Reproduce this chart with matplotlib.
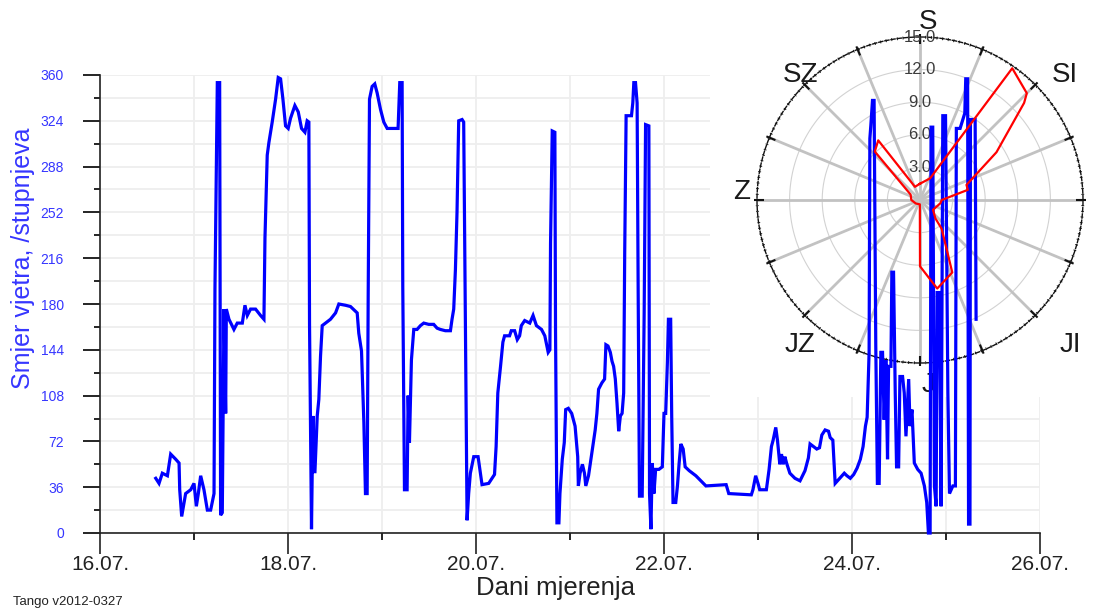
import numpy as np
import matplotlib
matplotlib.use("Agg")
import matplotlib.pyplot as plt
from matplotlib.patches import Rectangle

plt.rcParams['font.family'] = ['Liberation Sans', 'DejaVu Sans']

# vrijeme (dan u srpnju) i smjer vjetra u stupnjevima
days = [16.593, 16.628, 16.663, 16.717, 16.752, 16.805, 16.841, 16.848, 16.869, 16.894,
        16.911, 16.965, 17.0, 17.025, 17.046, 17.071, 17.106, 17.142, 17.177, 17.213,
        17.223, 17.248, 17.273, 17.283, 17.301, 17.319, 17.337, 17.344, 17.372, 17.425,
        17.46, 17.514, 17.542, 17.567, 17.602, 17.655, 17.708, 17.744, 17.755, 17.779,
        17.797, 17.815, 17.832, 17.868, 17.896, 17.921, 17.946, 17.974, 18.002, 18.027,
        18.073, 18.109, 18.144, 18.18, 18.204, 18.222, 18.229, 18.25, 18.265, 18.286,
        18.311, 18.328, 18.346, 18.364, 18.399, 18.452, 18.506, 18.541, 18.612, 18.665,
        18.736, 18.753, 18.782, 18.807, 18.824, 18.842, 18.853, 18.867, 18.895, 18.923,
        18.948, 18.984, 19.019, 19.055, 19.108, 19.171, 19.189, 19.214, 19.221, 19.239,
        19.267, 19.278, 19.292, 19.313, 19.338, 19.373, 19.409, 19.444, 19.497, 19.55,
        19.586, 19.621, 19.674, 19.728, 19.745, 19.763, 19.781, 19.798, 19.816, 19.852,
        19.869, 19.887, 19.905, 19.922, 19.94, 19.976, 20.022, 20.047, 20.064, 20.135,
        20.161, 20.197, 20.214, 20.232, 20.261, 20.286, 20.304, 20.357, 20.375, 20.411,
        20.439, 20.464, 20.482, 20.518, 20.572, 20.607, 20.643, 20.697, 20.732, 20.768,
        20.786, 20.793, 20.811, 20.839, 20.846, 20.861, 20.882, 20.893, 20.918, 20.939,
        20.954, 20.982, 21.018, 21.054, 21.082, 21.089, 21.107, 21.132, 21.154, 21.168,
        21.197, 21.232, 21.268, 21.286, 21.304, 21.339, 21.368, 21.382, 21.404, 21.429,
        21.447, 21.464, 21.482, 21.5, 21.518, 21.536, 21.554, 21.571, 21.582, 21.597,
        21.654, 21.668, 21.679, 21.697, 21.714, 21.725, 21.739, 21.768, 21.789, 21.804,
        21.839, 21.846, 21.861, 21.875, 21.893, 21.911, 21.946, 21.982, 22.0, 22.018,
        22.036, 22.047, 22.071, 22.082, 22.096, 22.125, 22.143, 22.161, 22.179, 22.204,
        22.225, 22.268, 22.339, 22.393, 22.446, 22.661, 22.689, 22.929, 22.946, 22.975,
        23.0, 23.018, 23.089, 23.118, 23.143, 23.161, 23.189, 23.207, 23.232, 23.25,
        23.268, 23.286, 23.304, 23.339, 23.393, 23.447, 23.5, 23.536, 23.554, 23.589,
        23.625, 23.654, 23.679, 23.714, 23.75, 23.768, 23.796, 23.821, 23.893, 23.918,
        23.946, 23.982, 24.018, 24.054, 24.089, 24.118, 24.143, 24.161, 24.182, 24.19,
        24.2, 24.218, 24.235, 24.253, 24.27, 24.289, 24.307, 24.325, 24.342, 24.36,
        24.378, 24.389, 24.414, 24.424, 24.442, 24.46, 24.474, 24.496, 24.51, 24.538,
        24.556, 24.574, 24.603, 24.617, 24.638, 24.663, 24.699, 24.735, 24.77, 24.795,
        24.813, 24.831, 24.841, 24.859, 24.877, 24.895, 24.906, 24.93, 24.948, 24.966,
        24.995, 25.02, 25.037, 25.073, 25.1, 25.11, 25.15, 25.2, 25.21, 25.23,
        25.24, 25.255, 25.26, 25.31, 25.32]
smjer = [43, 39, 47, 45, 62, 58, 55, 34, 13, 24,
         31, 34, 39, 21, 31, 45, 34, 18, 18, 31,
         192, 354, 354, 14, 16, 176, 94, 176, 168, 160,
         165, 165, 179, 171, 176, 176, 171, 168, 232, 297,
         307, 315, 323, 341, 358, 357, 341, 320, 318, 326,
         336, 331, 318, 315, 324, 323, 164, 3, 92, 47,
         92, 105, 139, 163, 165, 168, 173, 180, 179, 178,
         173, 157, 143, 87, 31, 31, 186, 341, 351, 353,
         346, 333, 323, 318, 318, 318, 354, 354, 194, 34,
         34, 108, 71, 136, 160, 160, 163, 165, 164, 164,
         161, 160, 159, 159, 168, 176, 207, 252, 324, 325,
         323, 165, 10, 31, 47, 60, 60, 47, 38, 39,
         42, 46, 68, 110, 131, 150, 155, 155, 159, 159,
         152, 155, 163, 167, 165, 171, 163, 160, 155, 142,
         144, 228, 316, 315, 160, 8, 8, 31, 58, 71,
         97, 98, 94, 84, 60, 37, 47, 54, 47, 37,
         45, 63, 81, 94, 113, 118, 121, 148, 147, 142,
         135, 131, 121, 102, 80, 92, 94, 110, 220, 328,
         328, 338, 354, 354, 338, 192, 29, 29, 173, 321,
         320, 31, 3, 55, 31, 50, 50, 52, 94, 94,
         134, 168, 168, 92, 24, 24, 37, 55, 70, 66,
         52, 49, 45, 41, 37, 38, 31, 30, 34, 45,
         39, 34, 34, 50, 68, 73, 83, 73, 54, 62,
         54, 60, 55, 47, 43, 41, 49, 59, 70, 68,
         66, 67, 77, 81, 80, 75, 73, 39, 45, 47,
         45, 43, 46, 51, 58, 68, 84, 91, 142, 310,
         320, 340, 340, 147, 39, 39, 142, 142, 89, 136,
         58, 131, 131, 205, 205, 110, 52, 52, 123, 123,
         110, 76, 121, 84, 97, 55, 50, 47, 37, 24,
         0, 0, 319, 319, 37, 21, 189, 189, 21, 328,
         328, 110, 31, 37, 37, 318, 318, 330, 357, 357,
         7, 7, 325, 325, 168]

# ruza vjetrova: smjer (stupnjevi od sjevera) i ucestalost
rose_dir = [0, 25, 35, 45, 47, 58, 72, 78, 90, 99, 127, 140, 143, 153, 156, 169,
            180, 182, 230, 270, 300, 317, 325, 339]
rose_val = [1.5, 2.2, 14.8, 13.9, 13.1, 8.3, 4.5, 4.5, 2.0, 1.9, 1.5, 2.2, 3.3, 5.7, 7.3, 8.3,
            6.1, 0.4, 0.5, 0.8, 1.0, 6.1, 6.7, 1.3]

date_ticks = [16, 18, 20, 22, 24, 26]
date_labels = ['16.07.', '18.07.', '20.07.', '22.07.', '24.07.', '26.07.']
y_ticks = list(range(0, 361, 36))
r_ticks = [3, 6, 9, 12, 15]
r_labels = ['3.0', '6.0', '9.0', '12.0', '15.0']
dir_names = ['S', 'SI', 'JI', 'J', 'JZ', 'Z', 'SZ']
dir_pos = [(2.6, 16.4), (49.2, 17.6), (134.0, 19.2), (177.5, 17.0), (219.6, 17.3),
           (272.6, 16.4), (316.2, 15.9)]

W, H = 1093, 610
fig = plt.figure(figsize=(W / 100, H / 100), dpi=100)
fig.patch.set_facecolor('white')

main_pos = [100 / W, 1 - 533 / H, 940 / W, 458 / H]
ax = fig.add_axes(main_pos, zorder=0)
ax.set_xlim(16, 26)
ax.set_ylim(0, 360)
ax.set_xticks(date_ticks)
ax.set_xticklabels(date_labels)
ax.set_xticks(range(17, 26, 2), minor=True)
ax.set_yticks(y_ticks)
ax.set_yticks(range(18, 360, 36), minor=True)
ax.set_axisbelow(True)
ax.grid(True, which='both', color='#eeeeee', lw=1.3)
for s in ['top', 'right']:
    ax.spines[s].set_visible(False)
for s in ['left', 'bottom']:
    ax.spines[s].set_linewidth(1.2)
    ax.spines[s].set_color('#222222')
ax.tick_params(axis='x', which='major', length=15, width=1.2, pad=1, labelsize=15, colors='#222222')
ax.tick_params(axis='x', which='minor', length=5, width=1.2)
ax.tick_params(axis='y', which='major', length=12, width=1.2, pad=14, labelsize=10)
ax.tick_params(axis='y', which='minor', length=4, width=1.2)
for t in ax.get_yticklabels():
    t.set_color('#3535ff')
# bijela podloga ispod ruze vjetrova
ax.add_patch(Rectangle((710 / W, 1 - 397 / H), 1 - 710 / W, 397 / H, transform=fig.transFigure,
                       facecolor='white', edgecolor='none', zorder=1, clip_on=False))

fig.text(23 / W, 1 - 258 / H, 'Smjer vjetra, /stupnjeva', rotation=90, ha='center', va='center',
         fontsize=18, color='#3535ff')
fig.text(555 / W, 1 - 595 / H, 'Dani mjerenja', ha='center', va='baseline', fontsize=18.5,
         color='#222222')
fig.text(13 / W, 1 - 605 / H, 'Tango v2012-0327', ha='left', va='baseline', fontsize=9.5,
         color='#222222')

# polarni dijagram
ppos = [(920 - 163) / W, 1 - (200 + 163) / H, 326 / W, 326 / H]
pax = fig.add_axes(ppos, projection='polar', zorder=1)
pax.set_facecolor('none')
pax.set_theta_zero_location('N')
pax.set_theta_direction(-1)
pax.set_ylim(0, 15)
pax.set_xticks([])
pax.set_yticks([])
pax.spines['polar'].set_color('#111111')
pax.spines['polar'].set_linewidth(1.0)
pax.spines['polar'].set_linestyle((0, (3, 1.5)))
circ = np.linspace(0, 2 * np.pi, 361)
for r in r_ticks[:-1]:
    pax.plot(circ, np.full_like(circ, r), color='#d2d2d2', lw=0.8)
spokes = np.deg2rad(np.arange(0, 360, 22.5))
pax.vlines(spokes, 0, 15, color='#c2c2c2', lw=2.0)
minor = np.deg2rad(np.arange(0, 360, 2.0))
pax.vlines(minor, 14.85, 15.12, color='#111111', lw=0.6, clip_on=False)
pax.vlines(spokes, 14.4, 15.3, color='#111111', lw=1.5, clip_on=False)
for r, lab in zip(r_ticks, r_labels):
    pax.text(0, r, lab, ha='center', va='center', fontsize=12, color='#3c3c3c')
for name, (a, r) in zip(dir_names, dir_pos):
    pax.text(np.deg2rad(a), r, name, ha='center', va='center', fontsize=20, color='#1a1a1a',
             clip_on=False)

# vremenski niz iznad ruze
lax = fig.add_axes(main_pos, zorder=2)
lax.set_facecolor('none')
lax.set_xlim(16, 26)
lax.set_ylim(0, 360)
lax.axis('off')
lax.plot(days, smjer, color='#0000ff', lw=2.3, clip_on=False, solid_joinstyle='miter')

# ruza vjetrova (crveno)
rax = fig.add_axes(ppos, projection='polar', zorder=3)
rax.set_facecolor('none')
rax.set_theta_zero_location('N')
rax.set_theta_direction(-1)
rax.set_ylim(0, 15)
rax.axis('off')
th = np.deg2rad(rose_dir + rose_dir[:1])
rv = rose_val + rose_val[:1]
rax.plot(th, rv, color='#ff0000', lw=1.6)

fig.savefig('out.png', dpi=100)
